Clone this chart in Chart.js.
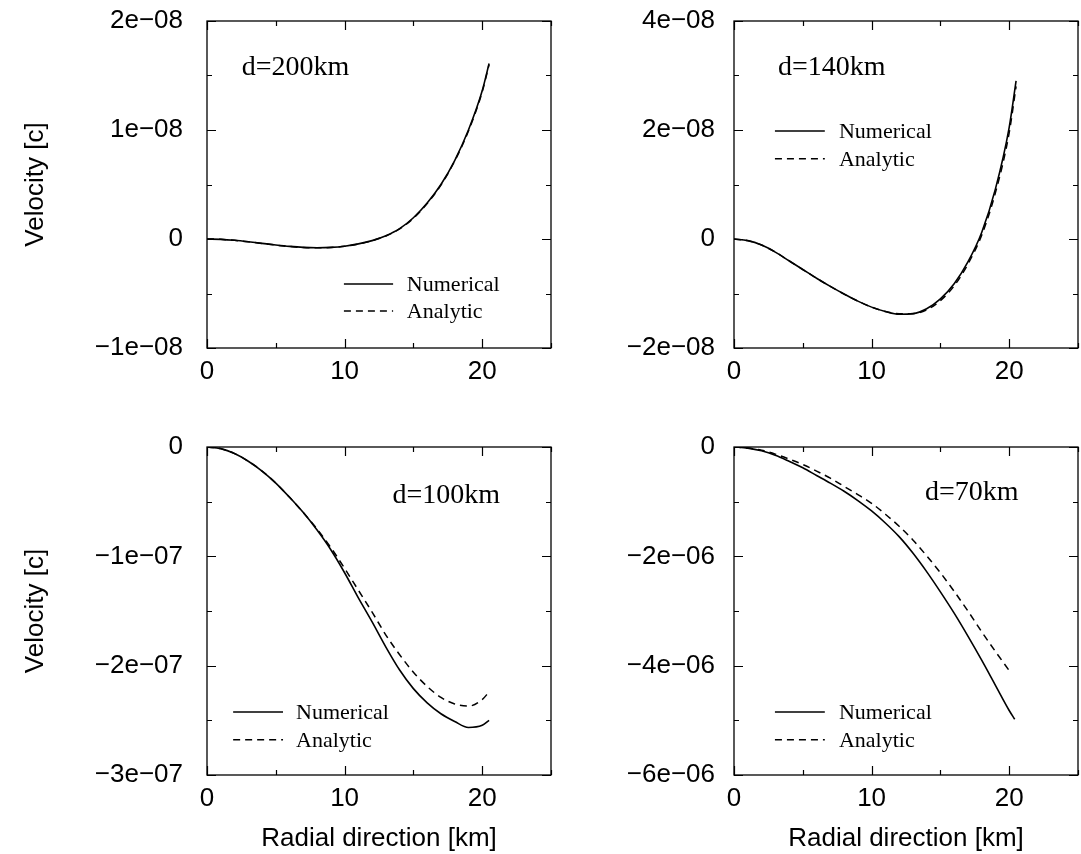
<!DOCTYPE html>
<html>
<head>
<meta charset="utf-8">
<script src="https://cdn.jsdelivr.net/npm/chart.js@4.4.1/dist/chart.umd.min.js"></script>
<style>
  html, body { margin: 0; padding: 0; background: #fff; }
  #wrap { position: relative; width: 1081px; height: 854px; overflow: hidden; }
  canvas { position: absolute; }
</style>
</head>
<body>
<div id="wrap">
  <canvas id="c200" width="560" height="427" style="left:0;top:0"></canvas>
  <canvas id="c140" width="521" height="427" style="left:560px;top:0"></canvas>
  <canvas id="c100" width="560" height="427" style="left:0;top:427px"></canvas>
  <canvas id="c70" width="521" height="427" style="left:560px;top:427px"></canvas>
</div>
<script>
// radial position in km
const radius = [0, 1, 2, 3, 4, 5, 6, 7, 8, 9, 10, 11, 12, 13, 14, 15, 16, 17, 18, 19, 20, 20.5];
const radius70 = [0, 1, 2, 3, 4, 5, 6, 7, 8, 9, 10, 11, 12, 13, 14, 15, 16, 17, 18, 19, 20, 20.4];

// d=200km, units of 1e-8 c
const num200 = [0, -0.003, -0.012, -0.025, -0.04, -0.055, -0.068, -0.077, -0.08, -0.077, -0.066, -0.045, -0.015, 0.03, 0.095, 0.195, 0.33, 0.50, 0.72, 1.00, 1.36, 1.61];
const ana200 = [0, -0.003, -0.012, -0.026, -0.041, -0.056, -0.069, -0.078, -0.081, -0.078, -0.067, -0.046, -0.016, 0.028, 0.092, 0.19, 0.325, 0.495, 0.715, 0.99, 1.35, 1.60];
// d=140km, units of 1e-8 c
const num140 = [0, -0.03, -0.11, -0.24, -0.40, -0.56, -0.72, -0.87, -1.01, -1.14, -1.25, -1.33, -1.38, -1.37, -1.28, -1.10, -0.82, -0.42, 0.12, 0.92, 2.05, 2.9];
const ana140 = [0, -0.03, -0.11, -0.24, -0.40, -0.56, -0.72, -0.87, -1.01, -1.14, -1.25, -1.33, -1.37, -1.37, -1.30, -1.13, -0.86, -0.46, 0.07, 0.85, 1.95, 2.8];
// d=100km, units of 1e-7 c
const num100 = [0, -0.015, -0.06, -0.13, -0.22, -0.33, -0.46, -0.60, -0.76, -0.94, -1.15, -1.38, -1.60, -1.83, -2.04, -2.21, -2.34, -2.44, -2.51, -2.565, -2.545, -2.50];
const ana100 = [0, -0.015, -0.06, -0.13, -0.22, -0.33, -0.46, -0.60, -0.75, -0.92, -1.11, -1.31, -1.51, -1.72, -1.90, -2.06, -2.19, -2.29, -2.35, -2.37, -2.31, -2.24];
// d=70km, units of 1e-6 c
const num70 = [0, -0.02, -0.07, -0.15, -0.26, -0.38, -0.52, -0.66, -0.81, -0.98, -1.17, -1.39, -1.64, -1.94, -2.28, -2.65, -3.04, -3.46, -3.90, -4.36, -4.82, -4.98];
const ana70 = [0, -0.02, -0.06, -0.13, -0.22, -0.32, -0.44, -0.57, -0.72, -0.87, -1.03, -1.23, -1.45, -1.70, -1.99, -2.30, -2.64, -3.00, -3.38, -3.74, -4.09, null];

const xTicks = { min: 0, max: 25, step: 5, major: 10 };

const SANS = '"Liberation Sans", Arial, Helvetica, sans-serif';
const SERIF = '"Liberation Serif", "Times New Roman", serif';

Chart.defaults.color = '#000';

function sci(v) {
  if (Math.abs(v) < 1e-20) return '0';
  const e = Math.floor(Math.log10(Math.abs(v)) + 1e-9);
  const m = Math.round(v / Math.pow(10, e));
  const es = String(Math.abs(e)).padStart(2, '0');
  return (m < 0 ? '\u2212' : '') + Math.abs(m) + 'e' + (e < 0 ? '\u2212' : '+') + es;
}

function isMajor(v, major) {
  const r = v / major;
  return Math.abs(r - Math.round(r)) < 1e-6;
}

function toPoints(xs, ys, unit) {
  return xs.map((x, i) => ({ x: x, y: ys[i] === null ? null : ys[i] * unit }));
}

// box, inward ticks, panel label and the little legend
const framePlugin = {
  id: 'frame',
  afterDatasetsDraw(chart, args, o) {
    const { ctx, chartArea: a, scales: { x, y } } = chart;
    const w = a.right - a.left, h = a.bottom - a.top;
    ctx.save();
    ctx.strokeStyle = '#000';
    ctx.lineWidth = 1.3;
    ctx.strokeRect(a.left, a.top, w, h);

    ctx.beginPath();
    x.ticks.forEach(t => {
      const px = Math.round(x.getPixelForValue(t.value)) + 0.5;
      const len = isMajor(t.value, o.xMajor) ? 9 : 5;
      ctx.moveTo(px, a.bottom); ctx.lineTo(px, a.bottom - len);
      ctx.moveTo(px, a.top); ctx.lineTo(px, a.top + len);
    });
    y.ticks.forEach(t => {
      const py = Math.round(y.getPixelForValue(t.value)) + 0.5;
      const len = isMajor(t.value, o.yMajor) ? 9 : 5;
      ctx.moveTo(a.left, py); ctx.lineTo(a.left + len, py);
      ctx.moveTo(a.right, py); ctx.lineTo(a.right - len, py);
    });
    ctx.lineWidth = 1.2;
    ctx.stroke();

    ctx.fillStyle = '#000';
    ctx.textBaseline = 'alphabetic';
    ctx.textAlign = 'left';
    ctx.font = '28px ' + SERIF;
    ctx.fillText(o.label, a.left + o.labelAt[0] * w, a.top + o.labelAt[1] * h);

    const L = o.legend;
    ctx.font = '22px ' + SERIF;
    const rows = [['Numerical', []], ['Analytic', [7, 5]]];
    rows.forEach((r, i) => {
      const base = a.top + L.rows[i] * h;
      ctx.beginPath();
      ctx.setLineDash(r[1]);
      ctx.lineWidth = 1.5;
      ctx.moveTo(a.left + L.x0 * w, base - 7);
      ctx.lineTo(a.left + L.x1 * w, base - 7);
      ctx.stroke();
      ctx.setLineDash([]);
      ctx.fillText(r[0], a.left + L.tx * w, base);
    });
    ctx.restore();
  }
};

function makePanel(id, cfg) {
  const left = cfg.col === 0;
  const bottom = cfg.row === 1;
  return new Chart(document.getElementById(id), {
    type: 'line',
    data: {
      datasets: [
        {
          label: 'Numerical',
          data: toPoints(cfg.xs, cfg.num, cfg.unit),
          borderColor: '#000',
          borderWidth: 1.6,
          pointRadius: 0,
          fill: false,
          cubicInterpolationMode: 'monotone'
        },
        {
          label: 'Analytic',
          data: toPoints(cfg.xs, cfg.ana, cfg.unit),
          borderColor: '#000',
          borderWidth: 1.5,
          borderDash: [7, 5],
          pointRadius: 0,
          fill: false,
          spanGaps: false,
          cubicInterpolationMode: 'monotone'
        }
      ]
    },
    options: {
      responsive: false,
      animation: false,
      events: [],
      layout: { padding: { top: bottom ? 20 : 21, right: left ? 9 : 3, left: 0, bottom: 0 } },
      plugins: {
        legend: { display: false },
        tooltip: { enabled: false },
        frame: {
          xMajor: xTicks.major,
          yMajor: cfg.yMajor,
          label: cfg.label,
          labelAt: cfg.labelAt,
          legend: cfg.legend
        }
      },
      scales: {
        x: {
          type: 'linear',
          min: xTicks.min,
          max: xTicks.max,
          grid: { display: false, drawTicks: false },
          border: { display: false },
          ticks: {
            stepSize: xTicks.step,
            autoSkip: false,
            maxRotation: 0,
            padding: 8,
            font: { family: SANS, size: 26 },
            callback: v => isMajor(v, xTicks.major) && v < xTicks.max ? String(v) : ''
          },
          title: {
            display: bottom,
            text: 'Radial direction [km]',
            font: { family: SANS, size: 26 },
            padding: { top: 0, bottom: 0 }
          },
          afterFit: s => { s.height = 79; s.paddingLeft = 0; s.paddingRight = 0; }
        },
        y: {
          type: 'linear',
          min: cfg.yMin,
          max: cfg.yMax,
          grid: { display: false, drawTicks: false },
          border: { display: false },
          ticks: {
            stepSize: cfg.yStep,
            autoSkip: false,
            padding: left ? 24 : 19,
            font: { family: SANS, size: 26 },
            callback: v => isMajor(v, cfg.yMajor) ? sci(v) : ''
          },
          title: {
            display: left,
            text: 'Velocity [c]',
            font: { family: SANS, size: 26 },
            padding: { top: 20, bottom: 0 }
          },
          // keep the label padding from pushing the plot box down
          afterFit: s => { s.width = left ? 207 : 174; s.paddingTop = 0; s.paddingBottom = 0; }
        }
      }
    },
    plugins: [framePlugin]
  });
}

makePanel('c200', {
  col: 0, row: 0, xs: radius, num: num200, ana: ana200, unit: 1e-8,
  yMin: -1e-8, yMax: 2e-8, yStep: 5e-9, yMajor: 1e-8,
  label: 'd=200km', labelAt: [0.101, 0.165],
  legend: { x0: 0.398, x1: 0.541, tx: 0.581, rows: [0.826, 0.908] }
});
makePanel('c140', {
  col: 1, row: 0, xs: radius, num: num140, ana: ana140, unit: 1e-8,
  yMin: -2e-8, yMax: 4e-8, yStep: 1e-8, yMajor: 2e-8,
  label: 'd=140km', labelAt: [0.128, 0.165],
  legend: { x0: 0.119, x1: 0.264, tx: 0.305, rows: [0.358, 0.443] }
});
makePanel('c100', {
  col: 0, row: 1, xs: radius, num: num100, ana: ana100, unit: 1e-7,
  yMin: -3e-7, yMax: 0, yStep: 5e-8, yMajor: 1e-7,
  label: 'd=100km', labelAt: [0.539, 0.172],
  legend: { x0: 0.076, x1: 0.221, tx: 0.259, rows: [0.829, 0.914] }
});
makePanel('c70', {
  col: 1, row: 1, xs: radius70, num: num70, ana: ana70, unit: 1e-6,
  yMin: -6e-6, yMax: 0, yStep: 1e-6, yMajor: 2e-6,
  label: 'd=70km', labelAt: [0.555, 0.162],
  legend: { x0: 0.119, x1: 0.264, tx: 0.305, rows: [0.829, 0.914] }
});
</script>
</body>
</html>
